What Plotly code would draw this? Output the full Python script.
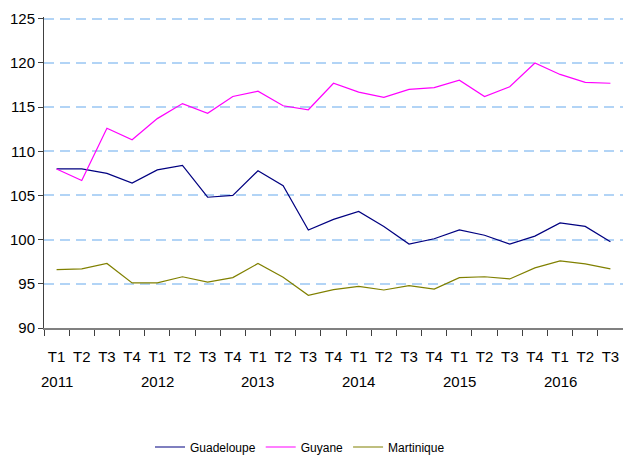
import plotly.graph_objects as go

quarters = ["T1", "T2", "T3", "T4", "T1", "T2", "T3", "T4", "T1", "T2", "T3", "T4",
            "T1", "T2", "T3", "T4", "T1", "T2", "T3", "T4", "T1", "T2", "T3"]
years = ["2011", "2012", "2013", "2014", "2015", "2016"]
year_start_idx = [0, 4, 8, 12, 16, 20]

guadeloupe = [108.0, 108.0, 107.5, 106.4, 107.9, 108.4, 104.8, 105.0, 107.8, 106.1, 101.1, 102.3,
              103.2, 101.5, 99.5, 100.1, 101.1, 100.5, 99.5, 100.4, 101.9, 101.5, 99.75]
guyane = [108.0, 106.7, 112.6, 111.3, 113.7, 115.4, 114.3, 116.2, 116.8, 115.15, 114.7, 117.7,
          116.7, 116.1, 117.0, 117.2, 118.05, 116.2, 117.3, 120.0, 118.7, 117.8, 117.7]
martinique = [96.6, 96.7, 97.3, 95.1, 95.1, 95.8, 95.2, 95.7, 97.3, 95.75, 93.7, 94.35,
              94.7, 94.3, 94.8, 94.4, 95.7, 95.8, 95.55, 96.8, 97.6, 97.25, 96.7]

x = list(range(len(quarters)))
FONT = "Liberation Sans, Arial, sans-serif"

fig = go.Figure()
for name, vals, col in [("Guadeloupe", guadeloupe, "#000080"),
                        ("Guyane", guyane, "#FF00FF"),
                        ("Martinique", martinique, "#808000")]:
    fig.add_trace(go.Scatter(x=x, y=vals, mode="lines", name=name,
                             line=dict(color=col, width=1.2)))

for yr, idx in zip(years, year_start_idx):
    fig.add_annotation(x=idx, y=0, xref="x", yref="paper", text=yr, showarrow=False,
                       yanchor="middle", yshift=-53,
                       font=dict(family=FONT, size=15, color="#000000"))

fig.update_layout(
    width=623, height=455,
    margin=dict(l=44, r=0, t=17, b=127, autoexpand=False),
    paper_bgcolor="white", plot_bgcolor="white",
    font=dict(family=FONT, size=15, color="#000000"),
    showlegend=True,
    legend=dict(orientation="h", x=300 / 623, xref="container", xanchor="center",
                y=(455 - 447) / 455, yref="container", yanchor="middle",
                font=dict(family=FONT, size=12), tracegroupgap=0),
    xaxis=dict(range=[-0.5, 22.5], tickmode="array", tickvals=x, ticktext=quarters,
               ticks="outside", ticklen=14, tickcolor="rgba(0,0,0,0)",
               showgrid=False, zeroline=False, automargin=False,
               showline=True, linecolor="#808080", linewidth=1.5,
               minor=dict(ticks="outside", tick0=-0.5, dtick=1, ticklen=6,
                          tickcolor="#404040", showgrid=False),
               tickfont=dict(family=FONT, size=15)),
    yaxis=dict(range=[90, 125.2], tickmode="linear", tick0=90, dtick=5,
               ticks="outside", ticklen=5, tickcolor="#404040", automargin=False,
               showgrid=True, gridcolor="rgb(178,212,246)", griddash="10px,6px", gridwidth=1.5,
               zeroline=False, showline=True, linecolor="#404040", linewidth=1,
               tickfont=dict(family=FONT, size=15)),
)

fig.write_html("out.html", config={"displayModeBar": False},
               post_script="document.body.style.margin='0';document.body.style.padding='0';")
